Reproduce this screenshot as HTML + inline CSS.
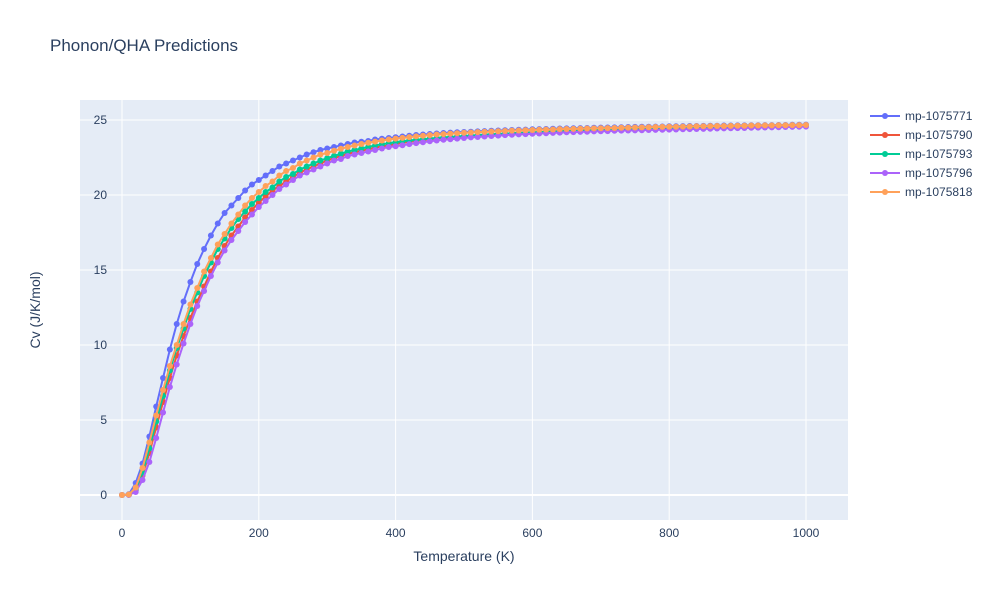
<!DOCTYPE html>
<html><head><meta charset="utf-8"><style>
body{margin:0;background:#fff;font-family:"Liberation Sans",Arial,sans-serif;}
svg text{font-family:"Liberation Sans",Arial,sans-serif;}
</style></head><body>
<svg id="chart" width="1000" height="600" xmlns="http://www.w3.org/2000/svg">
<rect width="1000" height="600" fill="#fff"/>
<text x="50" y="51" font-size="17" fill="#2a3f5f">Phonon/QHA Predictions</text>
<rect x="80" y="100" width="768" height="420" fill="#e5ecf6"/>
<g id="grid"></g><g id="series"></g><g id="axes"></g><g id="legend"></g>
<text x="464" y="561" font-size="14" fill="#2a3f5f" text-anchor="middle">Temperature (K)</text>
<text transform="translate(40,310) rotate(-90)" font-size="14" fill="#2a3f5f" text-anchor="middle">Cv (J/K/mol)</text>
</svg>
<script>
const temps=[];for(let t=0;t<=1000;t+=10)temps.push(t);
const xTicks=[0,200,400,600,800,1000];
const yTicks=[0,5,10,15,20,25];
const names=["mp-1075771","mp-1075790","mp-1075793","mp-1075796","mp-1075818"];
const colors=["#636efa","#EF553B","#00cc96","#ab63fa","#FFA15A"];
const s1=[0,0.05,0.8,2.1,3.9,5.9,7.8,9.7,11.4,12.9,14.2,15.4,16.4,17.3,18.1,18.8,19.3,19.8,20.3,20.7,21.0,21.3,21.6,21.9,22.1,22.3,22.5,22.7,22.85,23.0,23.1,23.2,23.3,23.4,23.5,23.55,23.6,23.7,23.75,23.8,23.85,
23.9,23.95,24.0,24.03,24.07,24.1,24.13,24.16,24.18,24.2,24.22,24.24,24.26,24.28,24.3,24.32,24.33,24.35,24.36,24.38,24.39,24.4,24.42,24.43,24.44,24.45,24.46,24.47,24.48,24.49,24.5,24.51,24.52,24.53,24.54,24.55,24.55,24.56,24.57,24.58,24.58,24.59,24.6,24.6,24.61,24.62,24.62,24.63,24.63,24.64,24.64,24.65,24.65,24.66,24.66,24.67,24.67,24.68,24.68,24.69];
const s2=[0,0.02,0.3,1.3,2.8,4.5,6.2,7.8,9.3,10.6,11.8,12.9,13.9,14.9,15.8,16.6,17.3,17.9,18.5,19.0,19.5,19.9,20.3,20.6,20.9,21.2,21.5,21.7,21.9,22.1,22.3,22.45,22.6,22.75,22.85,22.95,23.05,23.15,23.25,23.3,23.4,
23.48,23.55,23.61,23.67,23.72,23.77,23.81,23.85,23.89,23.92,23.95,23.98,24.01,24.04,24.06,24.09,24.11,24.13,24.15,24.17,24.19,24.21,24.23,24.25,24.26,24.28,24.29,24.31,24.32,24.34,24.35,24.36,24.37,24.39,24.4,24.41,24.42,24.43,24.44,24.45,24.46,24.47,24.48,24.49,24.5,24.51,24.52,24.53,24.54,24.55,24.56,24.57,24.58,24.59,24.6,24.61,24.62,24.63,24.63,24.64];
const s3=[0,0.02,0.4,1.5,3.1,4.9,6.6,8.3,9.8,11.1,12.4,13.5,14.6,15.5,16.4,17.1,17.8,18.4,18.9,19.4,19.8,20.2,20.5,20.9,21.2,21.4,21.7,21.9,22.1,22.3,22.45,22.6,22.75,22.9,23.0,23.1,23.2,23.3,23.38,23.45,23.52,
23.58,23.63,23.68,23.72,23.76,23.8,23.84,23.87,23.9,23.93,23.96,23.99,24.02,24.04,24.07,24.09,24.11,24.13,24.15,24.17,24.19,24.21,24.23,24.25,24.26,24.28,24.29,24.31,24.32,24.34,24.35,24.36,24.37,24.39,24.4,24.41,24.42,24.43,24.44,24.45,24.46,24.47,24.48,24.49,24.5,24.51,24.52,24.53,24.54,24.55,24.56,24.57,24.58,24.59,24.6,24.61,24.62,24.63,24.63,24.64];
const s4=[0,0.01,0.2,1.0,2.2,3.8,5.5,7.2,8.7,10.1,11.4,12.6,13.6,14.6,15.5,16.3,17.0,17.6,18.2,18.7,19.2,19.6,20.0,20.4,20.7,21.0,21.3,21.5,21.7,21.9,22.1,22.3,22.4,22.6,22.7,22.8,22.9,23.0,23.1,23.2,23.25,
23.32,23.39,23.46,23.52,23.58,23.63,23.68,23.72,23.76,23.8,23.84,23.87,23.9,23.93,23.96,23.99,24.02,24.04,24.06,24.08,24.1,24.12,24.14,24.16,24.18,24.19,24.21,24.22,24.24,24.25,24.26,24.28,24.29,24.3,24.31,24.32,24.33,24.34,24.35,24.36,24.37,24.38,24.39,24.4,24.41,24.42,24.43,24.44,24.45,24.46,24.47,24.48,24.49,24.5,24.51,24.52,24.53,24.54,24.55,24.56];
const s5=[0,0.03,0.5,1.8,3.5,5.3,7.0,8.6,10.0,11.4,12.7,13.8,14.9,15.8,16.7,17.4,18.1,18.7,19.3,19.8,20.2,20.6,20.9,21.3,21.6,21.8,22.1,22.3,22.5,22.7,22.8,22.95,23.08,23.2,23.3,23.4,23.48,23.56,23.63,23.7,23.76,
23.81,23.86,23.91,23.95,23.99,24.03,24.06,24.09,24.12,24.15,24.17,24.19,24.21,24.23,24.25,24.27,24.29,24.3,24.32,24.33,24.35,24.36,24.37,24.39,24.4,24.41,24.42,24.43,24.44,24.45,24.46,24.47,24.48,24.49,24.5,24.51,24.52,24.53,24.54,24.55,24.55,24.56,24.57,24.58,24.58,24.59,24.6,24.6,24.61,24.62,24.62,24.63,24.63,24.64,24.64,24.65,24.65,24.66,24.66,24.67];
const seriesData=[s1,s2,s3,s4,s5];
const NS="http://www.w3.org/2000/svg";
const xS=v=>122+v*0.684;
const yS=v=>495-v*15;
function mk(tag,attrs,parent){const e=document.createElementNS(NS,tag);for(const k in attrs)e.setAttribute(k,attrs[k]);parent.appendChild(e);return e;}
const grid=document.getElementById('grid'),axes=document.getElementById('axes'),ser=document.getElementById('series'),leg=document.getElementById('legend');
xTicks.forEach(t=>{
 const l=mk('line',{x1:xS(t),x2:xS(t),y1:100,y2:520,stroke:'#fff','stroke-width':1},grid);
 
 
 const tx=mk('text',{x:xS(t),y:537,'font-size':12,fill:'#2a3f5f','text-anchor':'middle'},axes);
 tx.textContent=t;
 
 
});
yTicks.forEach(t=>{
 const l=mk('line',{x1:80,x2:848,y1:yS(t),y2:yS(t),stroke:'#fff','stroke-width':t===0?2:1},grid);
 
 
 const tx=mk('text',{x:107,y:yS(t)+4,'font-size':12,fill:'#2a3f5f','text-anchor':'end'},axes);
 tx.textContent=t;
 
 
});
seriesData.forEach((arr,i)=>{
 const g=mk('g',{},ser);
 
 
 const pts=arr.map((v,j)=>xS(temps[j])+','+yS(v)).join(' ');
 const pl=mk('polyline',{points:pts,fill:'none',stroke:colors[i],'stroke-width':2},g);
 
 
 arr.forEach((v,j)=>{
  const c=mk('circle',{cx:xS(temps[j]),cy:yS(v),r:3,fill:colors[i]},g);
  
  
 });
 const y=116+i*19;
 const lg=mk('g',{},leg);
 
 
 mk('line',{x1:870,x2:900,y1:y,y2:y,stroke:colors[i],'stroke-width':2},lg);
 mk('circle',{cx:885,cy:y,r:3,fill:colors[i]},lg);
 const tx=mk('text',{x:905,y:y+4,'font-size':12,fill:'#2a3f5f'},lg);
 tx.textContent=names[i];
});
</script>
</body></html>
